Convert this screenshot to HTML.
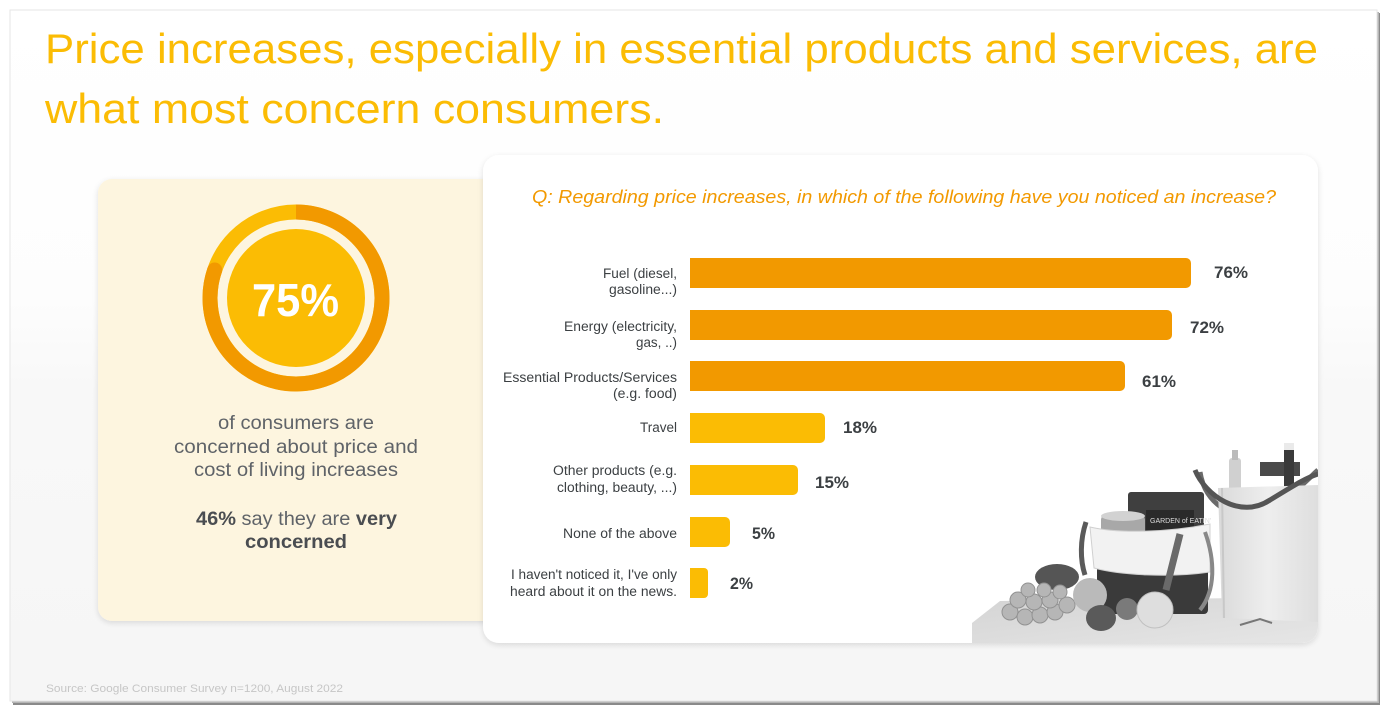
<!DOCTYPE html>
<html><head><meta charset="utf-8"><style>
html,body{margin:0;padding:0;background:#fff;}
svg{display:block;}
</style></head><body>
<svg width="1387" height="712" viewBox="0 0 1387 712" xmlns="http://www.w3.org/2000/svg">
<defs>
<linearGradient id="bg" x1="0" y1="0" x2="0" y2="1">
<stop offset="0" stop-color="#ffffff"/><stop offset="0.42" stop-color="#fdfdfd"/><stop offset="0.55" stop-color="#f8f8f8"/><stop offset="1" stop-color="#f6f6f6"/>
</linearGradient>
<linearGradient id="tbl" x1="0" y1="0" x2="1" y2="1">
<stop offset="0" stop-color="#d4d4d4"/><stop offset="1" stop-color="#e6e6e6"/>
</linearGradient>
<linearGradient id="rbag" x1="0" y1="0" x2="1" y2="0">
<stop offset="0" stop-color="#dadada"/><stop offset="0.5" stop-color="#eeeeee"/><stop offset="1" stop-color="#dedede"/>
</linearGradient>
<filter id="sh" x="-5%" y="-5%" width="110%" height="112%"><feDropShadow dx="0" dy="2" stdDeviation="3" flood-color="#000" flood-opacity="0.12"/></filter>
<clipPath id="cardclip"><rect x="483" y="155" width="835" height="488" rx="16"/></clipPath>
</defs>
<!-- slide frame shadow -->
<rect x="13" y="13" width="1367" height="692" fill="#8a8a8a"/>
<rect x="12" y="12" width="1367" height="691" fill="#b5b5b5"/>
<rect x="10" y="10" width="1367" height="691" fill="url(#bg)" stroke="#e6e6e6" stroke-width="1"/>

<!-- Title -->
<g font-family="Liberation Sans, sans-serif" font-size="42" fill="#fbbc04">
<text x="45" y="63" textLength="1273" lengthAdjust="spacingAndGlyphs">Price increases, especially in essential products and services, are</text>
<text x="45" y="123" textLength="619" lengthAdjust="spacingAndGlyphs">what most concern consumers.</text>
</g>

<!-- Left card -->
<rect x="98" y="179" width="420" height="442" rx="14" fill="#fdf5df" filter="url(#sh)"/>
<!-- donut -->
<circle cx="296" cy="298" r="86" fill="none" stroke="#fbbc04" stroke-width="15"/>
<path d="M296 212 A86 86 0 1 1 214.7 270" fill="none" stroke="#f29900" stroke-width="15" stroke-linecap="butt"/>
<circle cx="214.7" cy="270" r="7.5" fill="#f29900"/>
<circle cx="296" cy="298" r="69" fill="#fbbc04"/>
<text x="252" y="316" font-family="Liberation Sans, sans-serif" font-weight="bold" font-size="46" fill="#fff" textLength="87" lengthAdjust="spacingAndGlyphs">75%</text>
<g font-family="Liberation Sans, sans-serif" font-size="19" fill="#5f6368">
<text x="218" y="429" textLength="156" lengthAdjust="spacingAndGlyphs">of consumers are</text>
<text x="174" y="453" textLength="244" lengthAdjust="spacingAndGlyphs">concerned about price and</text>
<text x="194" y="476" textLength="204" lengthAdjust="spacingAndGlyphs">cost of living increases</text>
<text x="196" y="525" textLength="201" lengthAdjust="spacingAndGlyphs"><tspan font-weight="bold" fill="#4a4d51">46%</tspan> say they are <tspan font-weight="bold" fill="#4a4d51">very</tspan></text>
<text x="245" y="548" font-weight="bold" fill="#4a4d51" textLength="102" lengthAdjust="spacingAndGlyphs">concerned</text>
</g>

<!-- Right card -->
<rect x="483" y="155" width="835" height="488" rx="16" fill="#fff" filter="url(#sh)"/>
<text x="532" y="203" font-family="Liberation Sans, sans-serif" font-style="italic" font-size="18" fill="#f29900" textLength="744" lengthAdjust="spacingAndGlyphs">Q: Regarding price increases, in which of the following have you noticed an increase?</text>

<!-- photo -->
<g clip-path="url(#cardclip)">
<polygon points="972,623 1000,601 1318,597 1318,643 972,643" fill="url(#tbl)"/>
<!-- right bag contents -->
<rect x="1229" y="458" width="12" height="34" rx="3" fill="#d0d0d0"/>
<rect x="1232" y="450" width="6" height="10" fill="#bbb"/>
<rect x="1260" y="462" width="40" height="14" fill="#4a4a4a"/>
<rect x="1284" y="446" width="10" height="44" rx="2" fill="#3a3a3a"/>
<rect x="1284" y="443" width="10" height="7" fill="#eaeaea"/>
<!-- back strap -->
<path d="M1200 472 C1205 505 1235 522 1262 512 C1285 503 1305 482 1318 470" fill="none" stroke="#6a6a6a" stroke-width="5"/>
<!-- right bag body -->
<path d="M1218 488 L1318 485 L1318 622 L1222 618 Z" fill="url(#rbag)"/>
<line x1="1222" y1="488" x2="1224" y2="618" stroke="#c8c8c8" stroke-width="2"/>
<!-- front strap -->
<path d="M1195 470 C1205 495 1240 520 1270 500 C1290 488 1305 478 1318 474" fill="none" stroke="#555" stroke-width="5"/>
<!-- left bag -->
<rect x="1128" y="492" width="76" height="42" rx="3" fill="#3f3f3f"/>
<rect x="1146" y="510" width="48" height="36" fill="#2a2a2a"/>
<text x="1150" y="523" font-family="Liberation Sans, sans-serif" font-size="7" fill="#ddd">GARDEN of EATIN'</text>
<rect x="1101" y="514" width="44" height="34" rx="6" fill="#a8a8a8"/>
<ellipse cx="1123" cy="516" rx="22" ry="5" fill="#d2d2d2"/>
<rect x="1097" y="566" width="111" height="48" rx="4" fill="#3a3a3a"/>
<path d="M1090 527 C1120 534 1170 532 1210 524 L1210 572 C1170 578 1120 575 1094 568 Z" fill="#f2f2f2" stroke="#d0d0d0" stroke-width="1"/>
<path d="M1086 522 C1080 540 1080 560 1085 575" fill="none" stroke="#5a5a5a" stroke-width="5"/>
<path d="M1180 534 L1166 590" fill="none" stroke="#6a6a6a" stroke-width="7"/>
<path d="M1205 532 C1215 560 1216 590 1200 610" fill="none" stroke="#888" stroke-width="4"/>
<!-- fruits -->
<ellipse cx="1057" cy="577" rx="22" ry="13" fill="#555"/>
<g fill="#b6b6b6" stroke="#929292" stroke-width="1">
<circle cx="1010" cy="612" r="8"/><circle cx="1025" cy="617" r="8"/><circle cx="1040" cy="615" r="8"/><circle cx="1055" cy="612" r="8"/>
<circle cx="1018" cy="600" r="8"/><circle cx="1034" cy="602" r="8"/><circle cx="1050" cy="600" r="8"/><circle cx="1067" cy="605" r="8"/>
<circle cx="1028" cy="590" r="7"/><circle cx="1044" cy="590" r="7"/><circle cx="1060" cy="592" r="7"/>
</g>
<circle cx="1090" cy="595" r="17" fill="#bababa"/>
<ellipse cx="1101" cy="618" rx="15" ry="13" fill="#5a5a5a"/>
<circle cx="1127" cy="609" r="11" fill="#7a7a7a"/>
<circle cx="1155" cy="610" r="18" fill="#dedede" stroke="#c0c0c0" stroke-width="1"/>
<path d="M1240 625 l20 -6 l12 4" stroke="#777" stroke-width="2" fill="none"/>
</g>

<!-- bars -->
<g>
<path d="M690 258 H1186 a5 5 0 0 1 5 5 V283 a5 5 0 0 1 -5 5 H690 Z" fill="#f29900"/>
<path d="M690 310 H1167 a5 5 0 0 1 5 5 V335 a5 5 0 0 1 -5 5 H690 Z" fill="#f29900"/>
<path d="M690 361 H1120 a5 5 0 0 1 5 5 V386 a5 5 0 0 1 -5 5 H690 Z" fill="#f29900"/>
<path d="M690 413 H820 a5 5 0 0 1 5 5 V438 a5 5 0 0 1 -5 5 H690 Z" fill="#fbbc04"/>
<path d="M690 465 H793 a5 5 0 0 1 5 5 V490 a5 5 0 0 1 -5 5 H690 Z" fill="#fbbc04"/>
<path d="M690 517 H725 a5 5 0 0 1 5 5 V542 a5 5 0 0 1 -5 5 H690 Z" fill="#fbbc04"/>
<path d="M690 568 H704 a4 4 0 0 1 4 4 V594 a4 4 0 0 1 -4 4 H690 Z" fill="#fbbc04"/>
</g>
<g font-family="Liberation Sans, sans-serif" font-weight="bold" font-size="17" fill="#3c4043">
<text x="1214" y="278" textLength="34" lengthAdjust="spacingAndGlyphs">76%</text>
<text x="1190" y="333" textLength="34" lengthAdjust="spacingAndGlyphs">72%</text>
<text x="1142" y="387" textLength="34" lengthAdjust="spacingAndGlyphs">61%</text>
<text x="843" y="433" textLength="34" lengthAdjust="spacingAndGlyphs">18%</text>
<text x="815" y="488" textLength="34" lengthAdjust="spacingAndGlyphs">15%</text>
<text x="752" y="539" textLength="23" lengthAdjust="spacingAndGlyphs">5%</text>
<text x="730" y="589" textLength="23" lengthAdjust="spacingAndGlyphs">2%</text>
</g>
<g font-family="Liberation Sans, sans-serif" font-size="13.5" fill="#3c4043">
<text x="603" y="278" textLength="74" lengthAdjust="spacingAndGlyphs">Fuel (diesel,</text>
<text x="609" y="294" textLength="68" lengthAdjust="spacingAndGlyphs">gasoline...)</text>
<text x="564" y="331" textLength="113" lengthAdjust="spacingAndGlyphs">Energy (electricity,</text>
<text x="636" y="347" textLength="41" lengthAdjust="spacingAndGlyphs">gas, ..)</text>
<text x="503" y="382" textLength="174" lengthAdjust="spacingAndGlyphs">Essential Products/Services</text>
<text x="613" y="398" textLength="64" lengthAdjust="spacingAndGlyphs">(e.g. food)</text>
<text x="640" y="432" textLength="37" lengthAdjust="spacingAndGlyphs">Travel</text>
<text x="553" y="475" textLength="124" lengthAdjust="spacingAndGlyphs">Other products (e.g.</text>
<text x="557" y="492" textLength="120" lengthAdjust="spacingAndGlyphs">clothing, beauty, ...)</text>
<text x="563" y="538" textLength="114" lengthAdjust="spacingAndGlyphs">None of the above</text>
<text x="511" y="579" textLength="166" lengthAdjust="spacingAndGlyphs">I haven't noticed it, I've only</text>
<text x="510" y="596" textLength="167" lengthAdjust="spacingAndGlyphs">heard about it on the news.</text>
</g>

<text x="46" y="692" font-family="Liberation Sans, sans-serif" font-size="11" fill="#c6c6c6" textLength="297" lengthAdjust="spacingAndGlyphs">Source: Google Consumer Survey n=1200, August 2022</text>
</svg>
</body></html>
